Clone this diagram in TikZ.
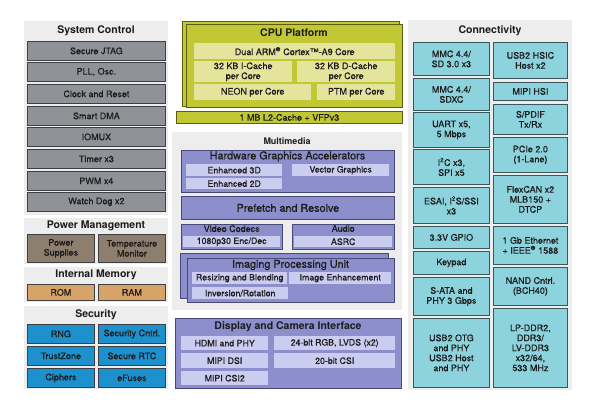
\documentclass[tikz,border=0pt]{standalone}
\usepackage{fontspec}
\setmainfont{TeX Gyre Heros}
\newfontfamily\boxfont[FakeBold=0.6]{TeX Gyre Heros}
\usepackage{tikz}

\definecolor{panelgray}{HTML}{EDEDED}
\definecolor{txt}{HTML}{1C1C1C}
\definecolor{sysgray}{HTML}{8F9398}
\definecolor{sysedge}{HTML}{3C4045}
\definecolor{pwrbrown}{HTML}{8E7E6E}
\definecolor{memorange}{HTML}{D8A367}
\definecolor{secblue}{HTML}{1C91CE}
\definecolor{cpugreen}{HTML}{C2C834}
\definecolor{cpuedge}{HTML}{5A5E12}
\definecolor{cpuinner}{HTML}{E4E49C}
\definecolor{mmblue}{HTML}{8C8FCC}
\definecolor{mmedge}{HTML}{474A78}
\definecolor{mminner}{HTML}{CBCDF0}
\definecolor{conncyan}{HTML}{8DD3DD}
\definecolor{connedge}{HTML}{3A575C}

\begin{document}
\begin{tikzpicture}[x=1pt, y=-1pt,
	blk/.style={anchor=north west, inner sep=0pt, align=center, text=txt, font=\boxfont\fontsize{9}{10}\selectfont},
	sz/.style 2 args={minimum width=#1pt, minimum height=#2pt},
	title/.style={text=txt, font=\bfseries\fontsize{10.5}{12}\selectfont},
	subtitle/.style={text=txt, font=\boxfont\fontsize{10.8}{12}\selectfont},
	panel/.style={fill=panelgray},
	sysbox/.style={blk, draw=sysedge, fill=sysgray, line width=0.8pt},
	pwrbox/.style={sysbox, fill=pwrbrown},
	membox/.style={sysbox, fill=memorange},
	secbox/.style={sysbox, fill=secblue},
	cpulayer/.style={draw=cpuedge, fill=cpugreen, line width=0.8pt},
	cpubox/.style={blk, fill=cpuinner},
	mmbox/.style={blk, draw=mmedge, fill=mmblue, line width=0.8pt},
	mmlayer/.style={draw=mmedge, fill=mmblue, line width=0.8pt},
	mminbox/.style={blk, fill=mminner, font=\boxfont\fontsize{8.8}{10}\selectfont},
	connbox/.style={blk, draw=connedge, fill=conncyan, line width=0.8pt}]
	\useasboundingbox (0,0) rectangle (596,410);
	\fill[white] (0,0) rectangle (596,410);

	% System Control
	\fill[panel] (24,21) rectangle (168,215);
	\node[title] (sysctl) at (96,31) {System Control};
	\node[sysbox, sz={138}{19}] (jtag) at (27,41) {Secure JTAG};
	\node[sysbox, sz={138}{19}] (pll) at (27,62) {PLL, Osc.};
	\node[sysbox, sz={138}{19}] (clk) at (27,84) {Clock and Reset};
	\node[sysbox, sz={138}{19}] (sdma) at (27,106) {Smart DMA};
	\node[sysbox, sz={138}{19}] (iomux) at (27,127) {IOMUX};
	\node[sysbox, sz={138}{19}] (timer) at (27,149) {Timer x3};
	\node[sysbox, sz={138}{19}] (pwm) at (27,171) {PWM x4};
	\node[sysbox, sz={138}{19}] (wdog) at (27,192) {Watch Dog x2};

	% Power Management
	\fill[panel] (24,218) rectangle (168,264);
	\node[title] (pwrmgt) at (96,226) {Power Management};
	\node[pwrbox, sz={67}{28}] (supply) at (27,234) {Power\\Supplies};
	\node[pwrbox, sz={67}{28}] (temp) at (98,234) {Temperature\\Monitor};

	% Internal Memory
	\fill[panel] (24,267) rectangle (168,302);
	\node[title] (intmem) at (96,275) {Internal Memory};
	\node[membox, sz={67}{16}] (rom) at (27,284) {ROM};
	\node[membox, sz={67}{16}] (ram) at (98,284) {RAM};

	% Security
	\fill[panel] (24,306) rectangle (168,389);
	\node[title] (security) at (96,315) {Security};
	\node[secbox, sz={67}{19}] (rng) at (27,324) {RNG};
	\node[secbox, sz={67}{19}] (seccntrl) at (98,324) {Security Cntrl.};
	\node[secbox, sz={67}{19}] (trustzone) at (27,346) {TrustZone};
	\node[secbox, sz={67}{19}] (srtc) at (98,346) {Secure RTC};
	\node[secbox, sz={67}{19}] (ciphers) at (27,368) {Ciphers};
	\node[secbox, sz={67}{19}] (efuses) at (98,368) {eFuses};

	% CPU Platform
	\draw[cpulayer] (182,21) rectangle (399,106);
	\draw[cpulayer] (186,24) rectangle (402,107);
	\node[title] (cpu) at (294,33) {CPU Platform};
	\node[cpubox, sz={201}{16}] (core) at (194,43) {Dual ARM\textsuperscript{®} Cortex™-A9 Core};
	\node[cpubox, sz={98}{21}] (icache) at (194,61) {32 KB I-Cache\\per Core};
	\node[cpubox, sz={98}{21}] (dcache) at (297,61) {32 KB D-Cache\\per Core};
	\node[cpubox, sz={117}{16}] (neon) at (194,84) {NEON per Core};
	\node[cpubox, sz={78}{16}] (ptm) at (317,84) {PTM per Core};
	\node[blk, draw=cpuedge, fill=cpugreen, line width=0.8pt, sz={226}{12}] (ltwo) at (176,111) {1 MB L2-Cache + VFPv3};

	% Multimedia
	\fill[panel] (172,132) rectangle (402,310);
	\node[title, font=\bfseries\fontsize{9}{10}\selectfont] (mm) at (287,141) {Multimedia};
	\node[mmbox, sz={213}{42}] (hga) at (181,150) {};
	\node[subtitle] (hgatitle) at (287.5,156.5) {Hardware Graphics Accelerators};
	\node[mminbox, sz={96}{12}] (e3d) at (186,164) {Enhanced 3D};
	\node[mminbox, sz={97}{12}] (vg) at (292,164) {Vector Graphics};
	\node[mminbox, sz={96}{11}] (e2d) at (186,178) {Enhanced 2D};
	\node[mmbox, sz={213}{23}, font=\boxfont\fontsize{10.8}{12}\selectfont] (prefetch) at (181,196) {Prefetch and Resolve};
	\node[mmbox, sz={101}{25}] (video) at (181,224) {};
	\node[blk] (videotitle) at (181,225) [minimum width=101pt] {Video Codecs};
	\node[mminbox, sz={97}{11}] (codec) at (183,236) {1080p30 Enc/Dec};
	\node[mmbox, sz={102}{25}] (audio) at (292,224) {};
	\node[blk] (audiotitle) at (292,225) [minimum width=102pt] {Audio};
	\node[mminbox, sz={98}{11}] (asrc) at (294,236) {ASRC};
	\draw[mmlayer] (180,253) rectangle (388,298);
	\node[mmbox, sz={207}{44}] (ipu) at (187,258) {};
	\node[subtitle] (iputitle) at (290.5,265) {Imaging Processing Unit};
	\node[mminbox, sz={95}{12}] (resize) at (192,272) {Resizing and Blending};
	\node[mminbox, sz={102}{12}] (enhance) at (289,272) {Image Enhancement};
	\node[mminbox, sz={96}{12}] (rotate) at (192,287) {Inversion/Rotation};

	% Display and Camera Interface
	\node[mmbox, sz={226}{70}] (display) at (175,318) {};
	\node[title] (disptitle) at (288,327) {Display and Camera Interface};
	\node[mminbox, sz={87}{14}] (hdmi) at (181,336) {HDMI and PHY};
	\node[mminbox, sz={121}{14}] (rgb) at (274,336) {24-bit RGB, LVDS (x2)};
	\node[mminbox, sz={87}{15}] (dsi) at (181,353) {MIPI DSI};
	\node[mminbox, sz={121}{15}] (csi) at (274,353) {20-bit CSI};
	\node[mminbox, sz={87}{14}] (csitwo) at (181,371) {MIPI CSI2};

	% Connectivity
	\fill[panel] (408,20) rectangle (572,390);
	\node[title] (conn) at (490,31) {Connectivity};
	\node[connbox, sz={76}{33}] (mmcsd) at (413,42) {MMC 4.4/\\SD 3.0 x3};
	\node[connbox, sz={76}{32}] (mmcsdxc) at (413,78) {MMC 4.4/\\SDXC};
	\node[connbox, sz={76}{35}] (uart) at (413,112) {UART x5,\\5 Mbps};
	\node[connbox, sz={76}{35}] (iic) at (413,149) {I\textsuperscript{2}C x3,\\SPI x5};
	\node[connbox, sz={76}{36}] (esai) at (413,187) {ESAI, I\textsuperscript{2}S/SSI\\x3};
	\node[connbox, sz={76}{22}] (gpio) at (413,226) {3.3V GPIO};
	\node[connbox, sz={76}{23}] (keypad) at (413,251) {Keypad};
	\node[connbox, sz={76}{38}] (sata) at (413,277) {S-ATA and\\PHY 3 Gbps};
	\node[connbox, sz={76}{69}] (usbotg) at (413,318) {USB2 OTG\\and PHY\\USB2 Host\\and PHY};
	\node[connbox, sz={74}{36}] (hsic) at (493,42) {USB2 HSIC\\Host x2};
	\node[connbox, sz={74}{18}] (hsi) at (493,82) {MIPI HSI};
	\node[connbox, sz={74}{30}] (spdif) at (493,104) {S/PDIF\\Tx/Rx};
	\node[connbox, sz={74}{35}] (pcie) at (493,137) {PCIe 2.0\\(1-Lane)};
	\node[connbox, sz={74}{48}] (flexcan) at (493,175) {FlexCAN x2\\MLB150 +\\DTCP};
	\node[connbox, sz={74}{38}] (enet) at (493,226) {1 Gb Ethernet\\+ IEEE\textsuperscript{®} 1588};
	\node[connbox, sz={74}{38}] (nand) at (493,267) {NAND Cntrl.\\(BCH40)};
	\node[connbox, sz={74}{79}] (ddr) at (493,308) {LP-DDR2,\\DDR3/\\LV-DDR3\\x32/64,\\533 MHz};
\end{tikzpicture}
\end{document}
